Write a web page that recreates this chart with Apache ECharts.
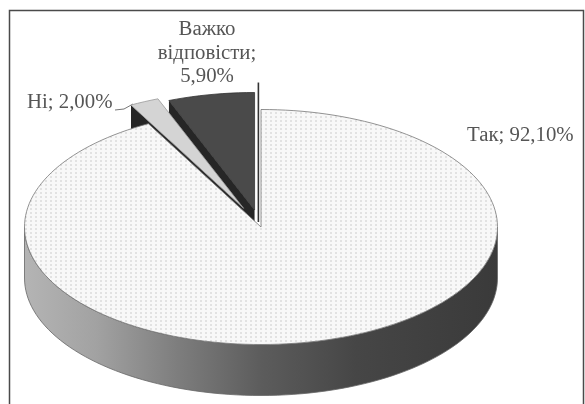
<!DOCTYPE html>
<html>
<head>
<meta charset="utf-8">
<style>
  html, body { margin: 0; padding: 0; background: #fff; }
  #main { width: 585px; height: 404px; filter: blur(0.55px); }
</style>
<script src="https://cdn.jsdelivr.net/npm/echarts@6/dist/echarts.min.js"></script>
</head>
<body>
<div id="main"></div>
<script>
// --- Data ---
const categories = ['Так', 'Ні', 'Важко відповісти'];
const shares = [92.1, 2.0, 5.9];
const labelLines = [['Так; 92,10%'], ['Ні; 2,00%'], ['Важко', 'відповісти;', '5,90%']];

// --- Pie look ---
const cx = 261, cy = 227, rx = 236.5, ry = 117.5, depth = 51;
const explode = [0, 0.175, 0.147];
const topColors = ['#f5f5f5', '#d4d4d4', '#4a4a4a'];
const cutColor = '#262626';
const labelPos = [[467, 136], [27, 103], [207, 30]];

function dotPattern() {
  const c = document.createElement('canvas');
  c.width = 5;
  c.height = 4;
  const ctx = c.getContext('2d');
  ctx.fillStyle = '#f8f8f8';
  ctx.fillRect(0, 0, 5, 4);
  ctx.fillStyle = '#e2e2e2';
  ctx.fillRect(0, 0, 2, 2);
  return c;
}

// slice angles, clockwise from 12 o'clock
const total = shares.reduce((a, b) => a + b, 0);
const spans = [];
shares.reduce((acc, v) => {
  spans.push([acc, acc + v / total * 360]);
  return acc + v / total * 360;
}, 0);

function pt(ox, oy, deg) {
  const t = deg * Math.PI / 180;
  return [ox + rx * Math.sin(t), oy - ry * Math.cos(t)];
}

function arc(ox, oy, a, b) {
  const pts = [];
  const n = Math.max(4, Math.ceil(Math.abs(b - a) / 2));
  for (let i = 0; i <= n; i++) pts.push(pt(ox, oy, a + (b - a) * i / n));
  return pts;
}

function renderSlice(params, api) {
  const i = api.value(0);
  const [a, b] = spans[i];
  const mid = (a + b) / 2 * Math.PI / 180;
  const ox = cx + explode[i] * rx * Math.sin(mid);
  const oy = cy - explode[i] * ry * Math.cos(mid);
  const children = [];

  if (i === 0) {
    // outer wall, only the front half shows
    const top = arc(ox, oy, 90, 270);
    const bottom = top.map(p => [p[0], p[1] + depth]).reverse();
    children.push({
      type: 'polygon',
      shape: { points: top.concat(bottom) },
      style: {
        fill: new echarts.graphic.LinearGradient(25, 0, 498, 0, [
          { offset: 0, color: '#b4b4b4' },
          { offset: 0.15, color: '#a2a2a2' },
          { offset: 0.32, color: '#7e7e7e' },
          { offset: 0.5, color: '#5c5c5c' },
          { offset: 0.7, color: '#464646' },
          { offset: 1, color: '#3a3a3a' }
        ], true),
        stroke: '#666',
        lineWidth: 0.8
      }
    });
    // cut face at 12 o'clock
    children.push({
      type: 'polygon',
      shape: { points: [[ox, oy + 2], [ox, oy - ry], [ox + 3, oy - ry], [ox + 3, oy + 2]] },
      style: { fill: '#a8a8a8' }
    });
  } else {
    // cut face on the left side of the wedge
    const apex = [ox, oy];
    const rim = pt(ox, oy, a);
    children.push({
      type: 'polygon',
      shape: { points: [apex, rim, [rim[0], rim[1] + depth], [apex[0], apex[1] + depth]] },
      style: { fill: cutColor }
    });
  }
  if (i === 2) {
    // thin wall on the right side of the wedge
    children.push({
      type: 'rect',
      shape: { x: ox + 3, y: oy - ry - 10, width: 1.6, height: ry + 22 },
      style: { fill: '#333' }
    });
  }

  children.push({
    type: 'polygon',
    shape: { points: [[ox, oy]].concat(arc(ox, oy, a, b)) },
    style: {
      fill: i === 0 ? { image: dotPattern(), repeat: 'repeat' } : topColors[i],
      stroke: i === 0 ? '#777' : topColors[i] === '#d4d4d4' ? '#999' : '#333',
      lineWidth: 0.8
    }
  });

  labelLines[i].forEach((line, k) => {
    children.push({
      type: 'text',
      x: labelPos[i][0],
      y: labelPos[i][1] + k * 23.5,
      style: {
        text: line,
        fill: '#555',
        font: '20.8px "Liberation Serif"',
        align: i === 2 ? 'center' : 'left',
        verticalAlign: 'middle'
      }
    });
  });

  return { type: 'group', children };
}

const chart = echarts.init(document.getElementById('main'));

chart.setOption({
  animation: false,
  backgroundColor: '#fff',
  graphic: [
    {
      type: 'polyline',
      z: 0,
      shape: { points: [[9.5, 410], [9.5, 10.5], [583.5, 10.5], [583.5, 410]] },
      style: { stroke: '#4a4a4a', lineWidth: 1.5, fill: null }
    },
    {
      type: 'polyline',
      z: 0,
      shape: { points: [[115, 110], [124, 109], [133, 104]] },
      style: { stroke: '#777', lineWidth: 1, fill: null }
    }
  ],
  series: [{
    type: 'custom',
    coordinateSystem: 'none',
    renderItem: renderSlice,
    // painted back to front: the big slice covers the lifted wedges
    data: [2, 1, 0].map(i => ({ name: categories[i], value: [i, shares[i]] }))
  }]
});
</script>
</body>
</html>
